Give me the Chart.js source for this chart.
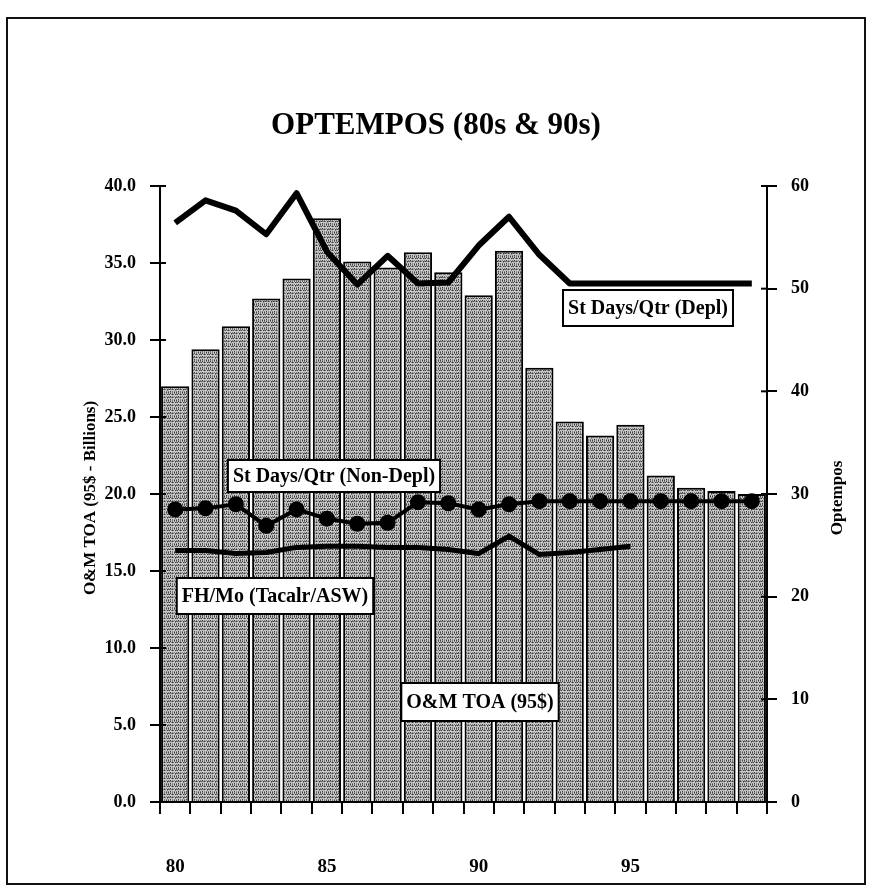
<!DOCTYPE html>
<html>
<head>
<meta charset="utf-8">
<script src="https://cdn.jsdelivr.net/npm/chart.js@4/dist/chart.umd.min.js"></script>
<style>
  html, body { margin: 0; padding: 0; background: #fff; }
  #wrap { position: relative; width: 872px; height: 894px; }
  #frame { position: absolute; left: 6px; top: 17px; width: 860px; height: 868px; border: 2px solid #111; box-sizing: border-box; pointer-events: none; }
</style>
</head>
<body>
<div id="wrap">
  <canvas id="chart" width="872" height="894"></canvas>
  <div id="frame"></div>
</div>
<script>
// fiscal years 1980 - 1999
const years = ["80", "81", "82", "83", "84", "85", "86", "87", "88", "89",
               "90", "91", "92", "93", "94", "95", "96", "97", "98", "99"];
const labeledYears = ["80", "85", "90", "95"];

// O&M TOA (95$ - Billions), left axis
const omToa = [27.0, 29.4, 30.9, 32.7, 34.0, 37.9, 35.1, 34.7, 35.7, 34.4,
               32.9, 35.8, 28.2, 24.7, 23.8, 24.5, 21.2, 20.4, 20.2, 20.0];

// optempos, right axis
const stDaysDepl = [56.4, 58.6, 57.6, 55.3, 59.3, 53.6, 50.4, 53.2, 50.5, 50.6,
                    54.2, 57.0, 53.3, 50.5, 50.5, 50.5, 50.5, 50.5, 50.5, 50.5];
const stDaysNonDepl = [28.5, 28.6, 29.0, 26.9, 28.5, 27.6, 27.1, 27.2, 29.2, 29.1,
                       28.5, 29.0, 29.3, 29.3, 29.3, 29.3, 29.3, 29.3, 29.3, 29.3];
const fhMo = [24.5, 24.5, 24.2, 24.3, 24.8, 24.9, 24.9, 24.8, 24.8, 24.6,
              24.2, 25.9, 24.1, 24.3, 24.6, 24.9, null, null, null, null];

const seriesNames = ["O&M TOA (95$)", "St Days/Qtr (Depl)", "St Days/Qtr (Non-Depl)", "FH/Mo (Tacalr/ASW)"];
const leftTicks = [0, 5, 10, 15, 20, 25, 30, 35, 40];
const rightTicks = [0, 10, 20, 30, 40, 50, 60];

const FONT = "'Liberation Serif', 'Times New Roman', serif";

// stippled grey fill like the photocopy (fixed pattern, not data)
function stipple() {
  const c = document.createElement("canvas");
  c.width = 8; c.height = 8;
  const g = c.getContext("2d");
  g.fillStyle = "#c8c8c8";
  g.fillRect(0, 0, 8, 8);
  const dens = [7, 2, 6, 3, 8, 2, 5, 4];
  for (let x = 0; x < 8; x++) {
    for (let y = 0; y < 8; y++) {
      if ((y * 3 + x * 5) % 10 < dens[x]) {
        g.fillStyle = (x + y) % 3 === 0 ? "#3a3a3a" : "#7a7a7a";
        g.fillRect(x, y, 1, 1);
      }
    }
  }
  return g.createPattern(c, "repeat");
}

// titles, axis cross ticks and boxed labels on top of the chart
const decorations = {
  id: "decorations",
  afterDatasetsDraw(chart) {
    const ctx = chart.ctx;
    const area = chart.chartArea;
    ctx.save();

    // little tick stubs reaching inside the axes, as on the original
    ctx.strokeStyle = "#000";
    ctx.lineWidth = 2;
    const yL = chart.scales.yL, yR = chart.scales.yR;
    leftTicks.forEach((v) => {
      const y = yL.getPixelForValue(v);
      ctx.beginPath(); ctx.moveTo(area.left, y); ctx.lineTo(area.left + 6, y); ctx.stroke();
    });
    rightTicks.forEach((v) => {
      const y = yR.getPixelForValue(v);
      ctx.beginPath(); ctx.moveTo(area.right - 6, y); ctx.lineTo(area.right, y); ctx.stroke();
    });

    ctx.fillStyle = "#000";
    ctx.textAlign = "center";
    ctx.textBaseline = "middle";

    ctx.font = "bold 31px " + FONT;
    ctx.fillText("OPTEMPOS (80s & 90s)", 436, 126);

    ctx.font = "bold 17px " + FONT;
    ctx.save();
    ctx.translate(91, 498);
    ctx.rotate(-Math.PI / 2);
    ctx.fillText("O&M TOA (95$ - Billions)", 0, 0);
    ctx.restore();
    ctx.save();
    ctx.translate(838, 498);
    ctx.rotate(-Math.PI / 2);
    ctx.fillText("Optempos", 0, 0);
    ctx.restore();

    // boxed series labels
    const boxes = [
      { text: seriesNames[1], cx: 648, cy: 308, h: 36 },
      { text: seriesNames[2], cx: 334, cy: 476, h: 32 },
      { text: seriesNames[3], cx: 275, cy: 596, h: 36 },
      { text: seriesNames[0], cx: 480, cy: 702, h: 38 },
    ];
    ctx.font = "bold 20px " + FONT;
    boxes.forEach((b) => {
      const w = ctx.measureText(b.text).width + 10;
      ctx.fillStyle = "#fff";
      ctx.fillRect(b.cx - w / 2, b.cy - b.h / 2, w, b.h);
      ctx.lineWidth = 2;
      ctx.strokeStyle = "#000";
      ctx.strokeRect(b.cx - w / 2, b.cy - b.h / 2, w, b.h);
      ctx.fillStyle = "#000";
      ctx.fillText(b.text, b.cx, b.cy + 1);
    });
    ctx.restore();
  },
};

const ctx = document.getElementById("chart").getContext("2d");
new Chart(ctx, {
  type: "bar",
  data: {
    labels: years,
    datasets: [
      {
        type: "line",
        label: seriesNames[1],
        data: stDaysDepl,
        yAxisID: "yR",
        borderColor: "#000",
        borderWidth: 6,
        pointRadius: 0,
        tension: 0,
        borderJoinStyle: "round",
        order: 1,
      },
      {
        type: "line",
        label: seriesNames[2],
        data: stDaysNonDepl,
        yAxisID: "yR",
        borderColor: "#000",
        borderWidth: 4,
        pointRadius: 6,
        pointBackgroundColor: "#000",
        pointBorderColor: "#000",
        tension: 0,
        order: 1,
      },
      {
        type: "line",
        label: seriesNames[3],
        data: fhMo,
        yAxisID: "yR",
        borderColor: "#000",
        borderWidth: 5,
        pointRadius: 0,
        tension: 0,
        spanGaps: false,
        order: 1,
      },
      {
        type: "bar",
        label: seriesNames[0],
        data: omToa,
        yAxisID: "yL",
        backgroundColor: stipple(),
        borderColor: "#000",
        borderWidth: 2,
        borderSkipped: "bottom",
        categoryPercentage: 1.0,
        barPercentage: 0.93,
        order: 2,
      },
    ],
  },
  options: {
    responsive: false,
    animation: false,
    layout: { padding: { top: 186, left: 0, right: 0, bottom: 0 } },
    plugins: {
      legend: { display: false },
      tooltip: { enabled: false },
      title: { display: false },
    },
    scales: {
      x: {
        offset: true,
        grid: {
          offset: true,
          drawOnChartArea: false,
          color: "#000",
          tickLength: 12,
          lineWidth: 2,
        },
        border: { color: "#000", width: 2 },
        ticks: {
          autoSkip: false,
          maxRotation: 0,
          padding: 42,
          color: "#000",
          font: { family: FONT, size: 19, weight: "bold" },
          callback: function (val) {
            const lab = this.getLabelForValue(val);
            return labeledYears.includes(lab) ? lab : "";
          },
        },
        afterFit: (scale) => { scale.height = 92; },
      },
      yL: {
        position: "left",
        min: 0,
        max: 40,
        afterBuildTicks: (scale) => { scale.ticks = leftTicks.map((v) => ({ value: v })); },
        grid: { drawOnChartArea: false, color: "#000", tickLength: 10, lineWidth: 2 },
        border: { color: "#000", width: 2 },
        ticks: {
          padding: 14,
          color: "#000",
          font: { family: FONT, size: 18, weight: "bold" },
          callback: (v) => v.toFixed(1),
        },
        afterFit: (scale) => { scale.width = 160; },
      },
      yR: {
        position: "right",
        min: 0,
        max: 60,
        afterBuildTicks: (scale) => { scale.ticks = rightTicks.map((v) => ({ value: v })); },
        grid: { drawOnChartArea: false, color: "#000", tickLength: 10, lineWidth: 2 },
        border: { color: "#000", width: 2 },
        ticks: {
          padding: 14,
          color: "#000",
          font: { family: FONT, size: 18, weight: "bold" },
        },
        afterFit: (scale) => { scale.width = 105; },
      },
    },
  },
  plugins: [decorations],
});
</script>
</body>
</html>
